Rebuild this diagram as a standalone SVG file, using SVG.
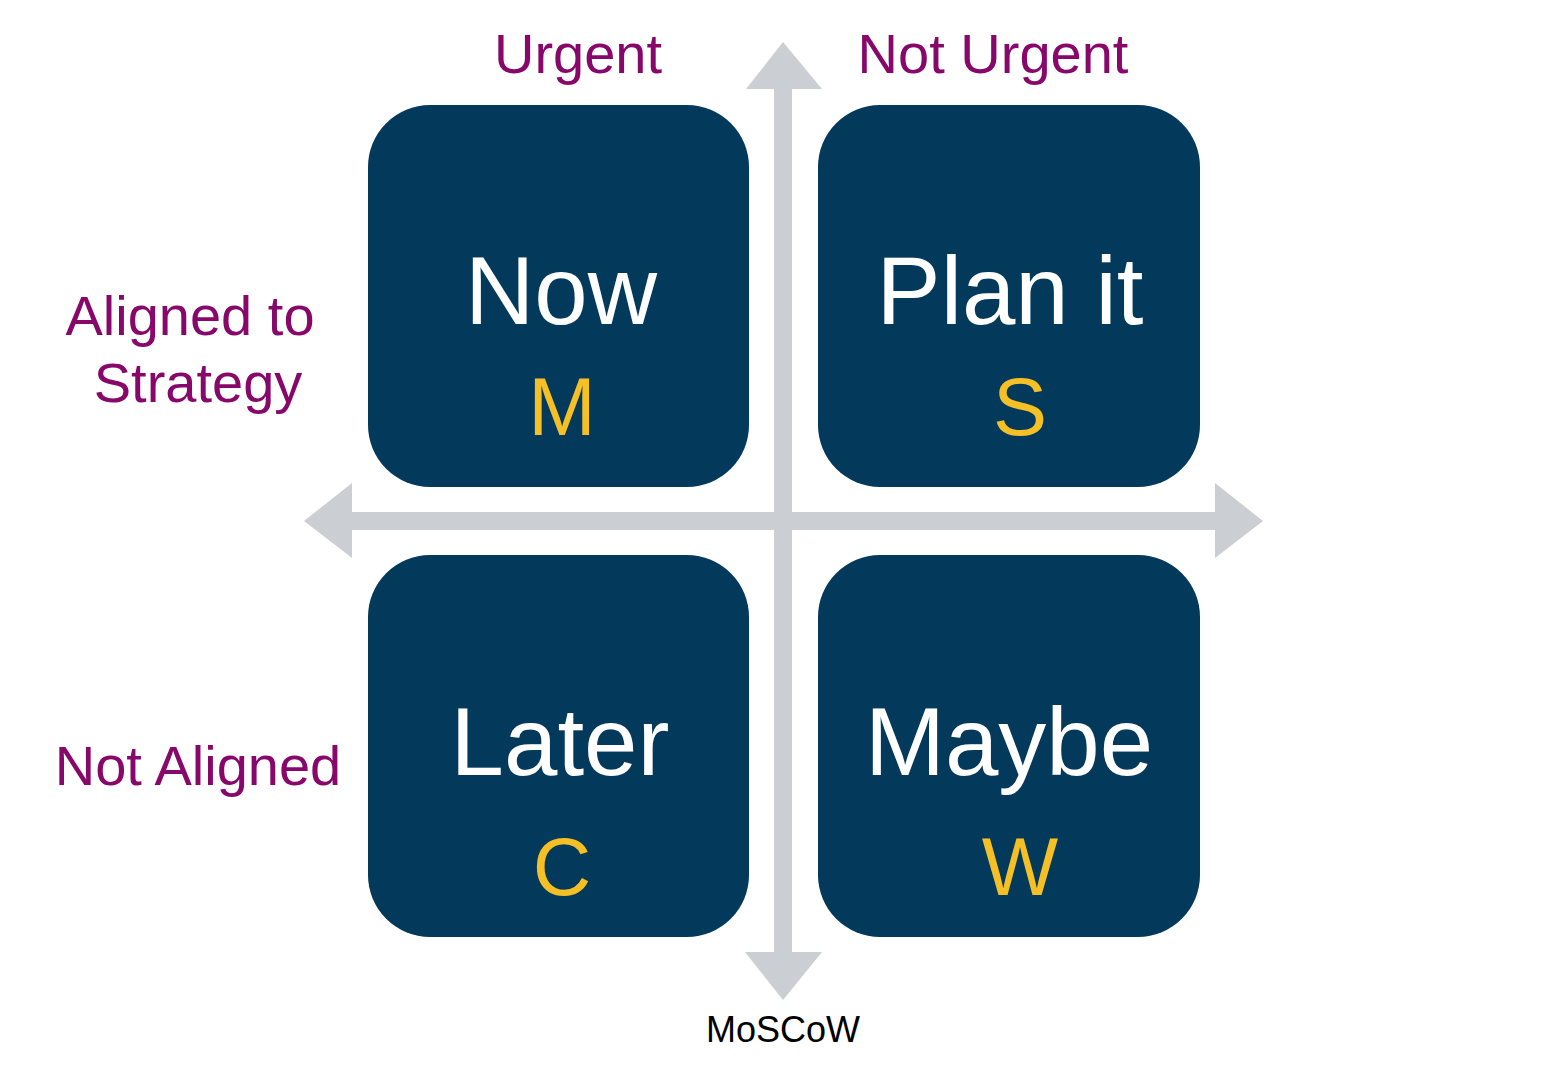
<svg xmlns="http://www.w3.org/2000/svg" width="1567" height="1075" viewBox="0 0 1567 1075">
<style>
.box{fill:#033A5C}
.axis{fill:#CBCED3}
.lbl{font-family:"Liberation Sans",Arial,sans-serif;font-size:56px;fill:#87076B;text-anchor:middle}
.big{font-family:"Liberation Sans",Arial,sans-serif;font-size:96px;fill:#FFFFFF;text-anchor:middle}
.let{font-family:"Liberation Sans",Arial,sans-serif;font-size:81px;fill:#F5BF26;text-anchor:middle}
.cap{font-family:"Liberation Sans",Arial,sans-serif;font-size:36px;fill:#000000;text-anchor:middle}
</style>
<rect width="1567" height="1075" fill="#FFFFFF"/>
<g id="connectors">
<polygon class="axis" points="783,42 822,89 792,89 792,952 822,952 783,1000 745,952 774,952 774,89 746,89"/>
<polygon class="axis" points="304,521 352,483 352,512 1215,512 1215,483 1263,521 1215,558 1215,530 352,530 352,558"/>
</g>
<g id="node-now">
<rect class="box" x="368" y="105" width="381" height="382" rx="62" ry="62"/>
<text class="big" x="561" y="324">Now</text>
<text class="let" x="562" y="435">M</text>
</g>
<g id="node-plan">
<rect class="box" x="818" y="105" width="382" height="382" rx="62" ry="62"/>
<text class="big" x="1010" y="324">Plan it</text>
<text class="let" x="1020" y="435">S</text>
</g>
<g id="node-later">
<rect class="box" x="368" y="555" width="381" height="382" rx="62" ry="62"/>
<text class="big" x="560" y="775">Later</text>
<text class="let" x="562" y="895">C</text>
</g>
<g id="node-maybe">
<rect class="box" x="818" y="555" width="382" height="382" rx="62" ry="62"/>
<text class="big" x="1009" y="775">Maybe</text>
<text class="let" x="1020" y="895">W</text>
</g>
<g id="labels">
<text class="lbl" x="578" y="73">Urgent</text>
<text class="lbl" x="993" y="73">Not Urgent</text>
<text class="lbl" x="190" y="335">Aligned to</text>
<text class="lbl" x="198" y="402">Strategy</text>
<text class="lbl" x="198" y="785">Not Aligned</text>
<text class="cap" x="783" y="1042">MoSCoW</text>
</g>
</svg>
